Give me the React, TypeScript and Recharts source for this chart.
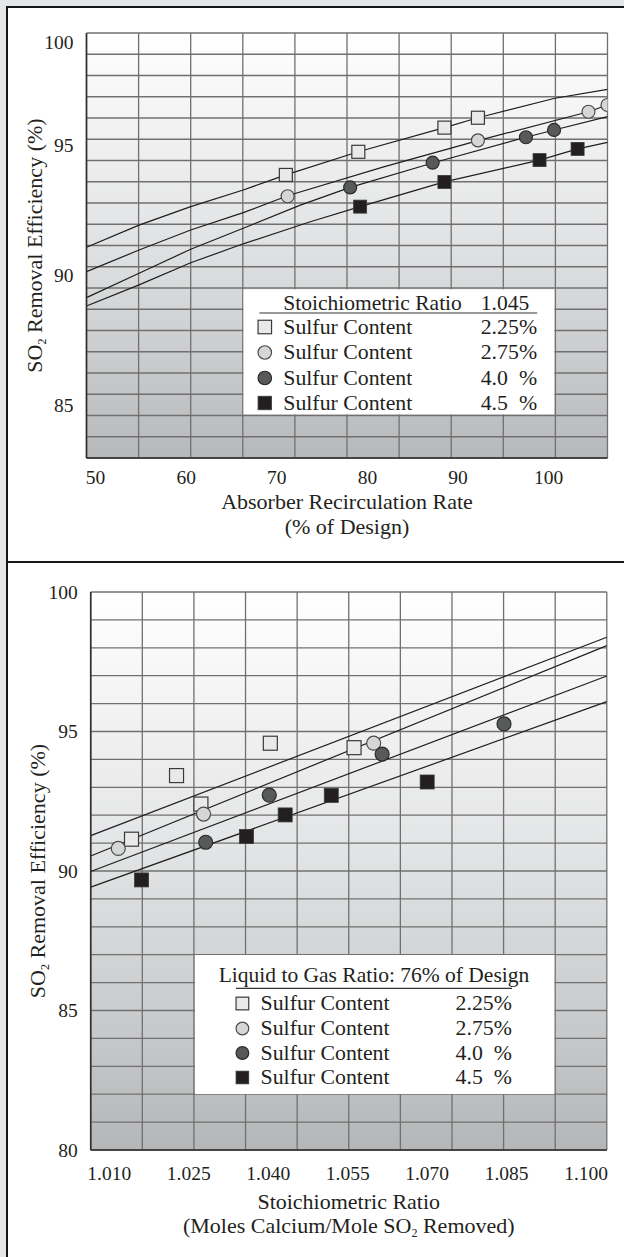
import React from "react";
import { ComposedChart, Line, Scatter, XAxis, YAxis, CartesianGrid } from "recharts";

const SERIF = '"Liberation Serif", "Times New Roman", serif';
const INK = "#231f20";

type Pt = [number, number];
const toXY = (a: Pt[]) => a.map(([x, y]) => ({ x, y }));

// ---- top panel: removal vs absorber recirculation rate (SR 1.045)
const rateTicks = [50, 60, 70, 80, 90, 100];
const rateDomain: [number, number] = [49, 106.5];
const topEffDomain: [number, number] = [82.96, 99.31];
const topEffTicks = [85, 90, 95, 99.31];

const rateS225: Pt[] = [[71.0, 93.85], [79.0, 94.74], [88.5, 95.67], [92.2, 96.05]];
const rateS275: Pt[] = [[71.2, 93.03], [92.2, 95.18], [104.4, 96.28], [106.5, 96.54]];
const rateS40: Pt[] = [[78.1, 93.37], [87.2, 94.32], [97.5, 95.3], [100.6, 95.58]];
const rateS45: Pt[] = [[79.2, 92.63], [88.5, 93.58], [99.0, 94.42], [103.2, 94.85]];

const rateFit225: Pt[] = [[49, 91.07], [54.8, 91.92], [60.5, 92.63], [66.3, 93.27], [71, 93.85], [79, 94.74], [88.5, 95.67], [92.2, 96.05], [100.7, 96.8], [106.5, 97.14]];
const rateFit275: Pt[] = [[49, 90.13], [54.8, 90.96], [60.5, 91.73], [66.3, 92.4], [71.2, 93.05], [81.7, 94.15], [92.2, 95.17], [104.4, 96.28], [106.5, 96.54]];
const rateFit40: Pt[] = [[49, 89.13], [54.8, 90.07], [60.5, 90.99], [66.3, 91.8], [72.6, 92.69], [78.1, 93.37], [87.2, 94.31], [97.5, 95.3], [100.6, 95.58], [106.5, 96.09]];
const rateFit45: Pt[] = [[49, 88.81], [54.8, 89.62], [60.5, 90.47], [66.3, 91.2], [73.7, 92.05], [79.2, 92.63], [88.5, 93.58], [99, 94.42], [103.2, 94.85], [106.5, 95.1]];

// ---- bottom panel: removal vs stoichiometric ratio (L/G 76%)
const ratioTicks = [1.01, 1.025, 1.04, 1.055, 1.07, 1.085, 1.1];
const ratioDomain: [number, number] = [1.0065, 1.1039];
const botEffDomain: [number, number] = [80, 100];
const botEffTicks = [80, 85, 90, 95, 100];

const ratioS225: Pt[] = [[1.0142, 91.14], [1.0227, 93.42], [1.0273, 92.4], [1.0404, 94.58], [1.0562, 94.42]];
const ratioS275: Pt[] = [[1.0117, 90.81], [1.0278, 92.04], [1.0599, 94.58]];
const ratioS40: Pt[] = [[1.0282, 91.03], [1.0402, 92.72], [1.0615, 94.19], [1.0845, 95.27]];
const ratioS45: Pt[] = [[1.0161, 89.68], [1.0359, 91.24], [1.0432, 92.01], [1.0519, 92.71], [1.07, 93.19]];

const ratioFit225: Pt[] = [[1.0065, 91.27], [1.1039, 98.38]];
const ratioFit275: Pt[] = [[1.0065, 90.54], [1.1039, 98.08]];
const ratioFit40: Pt[] = [[1.0065, 89.98], [1.1039, 96.99]];
const ratioFit45: Pt[] = [[1.0065, 89.42], [1.1039, 96.07]];

const sulfurNums = ["2.25", "2.75", "4.0", "4.5"];
const markerKinds = ["sqLight", "cLight", "cDark", "sqDark"];

function Marker({ kind, cx, cy, size }: { kind: string; cx: number; cy: number; size: number }) {
  const h = size / 2;
  if (kind === "sqLight")
    return <rect x={cx - h} y={cy - h} width={size} height={size} fill="#e8e9ea" stroke="#3a3a3a" strokeWidth={1.2} />;
  if (kind === "sqDark")
    return <rect x={cx - h} y={cy - h} width={size} height={size} fill={INK} stroke="#3a3a3a" strokeWidth={0.8} />;
  if (kind === "cLight")
    return <circle cx={cx} cy={cy} r={h} fill="#d5d6d8" stroke="#4a4a4a" strokeWidth={1.2} />;
  return <circle cx={cx} cy={cy} r={h} fill="#58595b" stroke="#2a2a2a" strokeWidth={1.2} />;
}

function YTitle({ vb, dx }: { vb: any; dx: number }) {
  const bx = (vb?.x ?? 0) + dx;
  const cy = (vb?.y ?? 0) + (vb?.height ?? 0) / 2;
  return (
    <text transform={`translate(${bx},${cy}) rotate(-90)`} textAnchor="middle" fontFamily={SERIF} fontSize={22} fill={INK}>
      SO<tspan fontSize={12} dy={4}>2</tspan>
      <tspan dy={-4}> Removal Efficiency (%)</tspan>
    </text>
  );
}

interface PanelProps {
  width: number;
  height: number;
  margin: { top: number; right: number; bottom: number; left: number };
  yWidth: number;
  xHeight: number;
  xDomain: [number, number];
  yDomain: [number, number];
  xTicks: number[];
  yTicks: number[];
  xFmt: (v: number) => string;
  yFmt: (v: number) => string;
  yLift: (v: number) => number;
  xGap: number;
  yGap: number;
  fits: Pt[][];
  sets: Pt[][];
  size: number;
  grad: string;
  titleDx: number;
  xTitle: React.ReactNode[];
  xTitleDy: number[];
}

function Panel(p: PanelProps) {
  const tickStyle = { fontFamily: SERIF, fontSize: 19.5, fill: INK };
  return (
    <ComposedChart width={p.width} height={p.height} margin={p.margin}>
      <CartesianGrid
        fill={`url(#${p.grad})`}
        fillOpacity={1}
        stroke="#707070"
        strokeWidth={1.3}
        horizontalCoordinatesGenerator={({ offset }: any) =>
          Array.from({ length: 21 }, (_, i) => offset.top + (i * offset.height) / 20)
        }
        verticalCoordinatesGenerator={({ offset }: any) =>
          Array.from({ length: 11 }, (_, i) => offset.left + (i * offset.width) / 10)
        }
      />
      <XAxis
        type="number"
        dataKey="x"
        domain={p.xDomain}
        ticks={p.xTicks}
        interval={0}
        allowDataOverflow
        tickFormatter={p.xFmt}
        tickLine={false}
        tickSize={6}
        tickMargin={p.xGap}
        height={p.xHeight}
        axisLine={{ stroke: "#2e2e2e", strokeWidth: 1.6 }}
        tick={tickStyle}
        label={(lp: any) => {
          const vb = lp.viewBox || {};
          const cx = (vb.x ?? 0) + (vb.width ?? 0) / 2;
          return (
            <g>
              {p.xTitle.map((t, i) => (
                <text key={i} x={cx} y={(vb.y ?? 0) + p.xTitleDy[i]} textAnchor="middle" fontFamily={SERIF} fontSize={22} fill={INK}>
                  {t}
                </text>
              ))}
            </g>
          );
        }}
      />
      <YAxis
        type="number"
        dataKey="y"
        domain={p.yDomain}
        ticks={p.yTicks}
        interval={0}
        allowDataOverflow
        width={p.yWidth}
        tickLine={false}
        tickSize={6}
        tickMargin={p.yGap}
        axisLine={{ stroke: "#2e2e2e", strokeWidth: 1.6 }}
        tick={(tp: any) => (
          <text x={tp.x} y={tp.y + p.yLift(tp.payload.value)} dy="0.355em" textAnchor="end" {...tickStyle}>
            {p.yFmt(tp.payload.value)}
          </text>
        )}
        label={(lp: any) => <YTitle vb={lp.viewBox} dx={p.titleDx} />}
      />
      {p.fits.map((f, i) => (
        <Line
          key={`fit${i}`}
          data={toXY(f)}
          dataKey="y"
          type="linear"
          stroke="#1e1e1e"
          strokeWidth={1.2}
          dot={false}
          activeDot={false}
          isAnimationActive={false}
        />
      ))}
      {p.sets.map((s, i) => (
        <Scatter
          key={`set${i}`}
          data={toXY(s)}
          isAnimationActive={false}
          shape={(sp: any) => <Marker kind={markerKinds[i]} cx={sp.cx} cy={sp.cy} size={p.size} />}
        />
      ))}
    </ComposedChart>
  );
}

function LegendBox(props: {
  x: number; y: number; w: number; h: number;
  title: React.ReactNode; rule: [number, number, number];
  rowBase: number[]; mx: number; ms: number; tx: number; vx: number; vEnd: number;
}) {
  const f = { fontFamily: SERIF, fontSize: 21.8, fill: INK };
  return (
    <g>
      <rect x={props.x} y={props.y} width={props.w} height={props.h} fill="#fff" />
      {props.title}
      <line x1={props.rule[0]} x2={props.rule[1]} y1={props.rule[2]} y2={props.rule[2]} stroke="#333" strokeWidth={1.2} />
      {sulfurNums.map((n, i) => (
        <g key={n}>
          <Marker kind={markerKinds[i]} cx={props.mx} cy={props.rowBase[i] - 6.5} size={props.ms} />
          <text x={props.tx} y={props.rowBase[i]} {...f}>Sulfur Content</text>
          <text x={props.vx} y={props.rowBase[i]} {...f}>{n}</text>
          <text x={props.vEnd} y={props.rowBase[i]} textAnchor="end" {...f}>%</text>
        </g>
      ))}
    </g>
  );
}

export default function App() {
  const f = { fontFamily: SERIF, fontSize: 21.5, fill: INK };
  return (
    <div style={{ position: "absolute", left: 0, top: 0, width: 624, height: 1257, overflow: "hidden", background: "#e3e6e9" }}>
      <svg width={0} height={0} style={{ position: "absolute" }}>
        <defs>
          <linearGradient id="gTop" x1="0" y1="0" x2="0" y2="1">
            <stop offset="0%" stopColor="#ffffff" />
            <stop offset="45%" stopColor="#e4e5e6" />
            <stop offset="100%" stopColor="#b7b8ba" />
          </linearGradient>
          <linearGradient id="gBot" x1="0" y1="0" x2="0" y2="1">
            <stop offset="0%" stopColor="#ffffff" />
            <stop offset="45%" stopColor="#e4e5e6" />
            <stop offset="100%" stopColor="#b5b6b8" />
          </linearGradient>
        </defs>
      </svg>
      <div style={{ position: "absolute", left: 6, top: 6, width: 640, height: 1270, background: "#fff", borderLeft: "2.5px solid #151515", borderTop: "2.5px solid #151515" }} />
      <div style={{ position: "absolute", left: 6, top: 560.5, width: 640, height: 2.5, background: "#151515" }} />

      <div style={{ position: "absolute", left: 0, top: 0 }}>
        <Panel
          width={624}
          height={560}
          margin={{ top: 33, right: 16.5, bottom: 22, left: 6 }}
          yWidth={80.5}
          xHeight={80}
          xDomain={rateDomain}
          yDomain={topEffDomain}
          xTicks={rateTicks}
          yTicks={topEffTicks}
          xFmt={(v) => String(v)}
          yFmt={(v) => (v === topEffDomain[1] ? "100" : String(v))}
          yLift={(v) => (v === topEffDomain[1] ? 9 : 0)}
          xGap={6}
          yGap={6.9}
          fits={[rateFit225, rateFit275, rateFit40, rateFit45]}
          sets={[rateS225, rateS275, rateS40, rateS45]}
          size={13}
          grad="gTop"
          titleDx={35.5}
          xTitle={["Absorber Recirculation Rate", "(% of Design)"]}
          xTitleDy={[51, 75.5]}
        />
      </div>

      <div style={{ position: "absolute", left: 0, top: 563 }}>
        <Panel
          width={624}
          height={694}
          margin={{ top: 29, right: 17.2, bottom: 10, left: 6 }}
          yWidth={84.7}
          xHeight={97}
          xDomain={ratioDomain}
          yDomain={botEffDomain}
          xTicks={ratioTicks}
          yTicks={botEffTicks}
          xFmt={(v) => v.toFixed(3)}
          yFmt={(v) => String(v)}
          yLift={() => 0}
          xGap={10}
          yGap={7}
          fits={[ratioFit225, ratioFit275, ratioFit40, ratioFit45]}
          sets={[ratioS225, ratioS275, ratioS40, ratioS45]}
          size={14}
          grad="gBot"
          titleDx={39}
          xTitle={[
            "Stoichiometric Ratio",
            <>
              (Moles Calcium/Mole SO<tspan fontSize={12} dy={4}>2</tspan>
              <tspan dy={-4}> Removed)</tspan>
            </>,
          ]}
          xTitleDy={[58.5, 83]}
        />
      </div>

      <svg width={624} height={1257} style={{ position: "absolute", left: 0, top: 0, pointerEvents: "none" }}>
        <LegendBox
          x={243.5} y={289.3} w={310.8} h={125}
          title={
            <g>
              <text x={283.3} y={310} {...f}>Stoichiometric Ratio</text>
              <text x={529.2} y={310} textAnchor="end" {...f}>1.045</text>
            </g>
          }
          rule={[259.4, 537.2, 313]}
          rowBase={[333.5, 359, 384.5, 409.5]}
          mx={264.8} ms={13.5} tx={283.3} vx={480.7} vEnd={537.2}
        />
        <LegendBox
          x={195} y={955} w={359.3} h={139}
          title={<text x={374} y={981.5} textAnchor="middle" {...f}>Liquid to Gas Ratio: 76% of Design</text>}
          rule={[236, 512, 988.3]}
          rowBase={[1010, 1035, 1059.5, 1084]}
          mx={242.4} ms={12.7} tx={260.6} vx={455.6} vEnd={512}
        />
      </svg>
    </div>
  );
}
